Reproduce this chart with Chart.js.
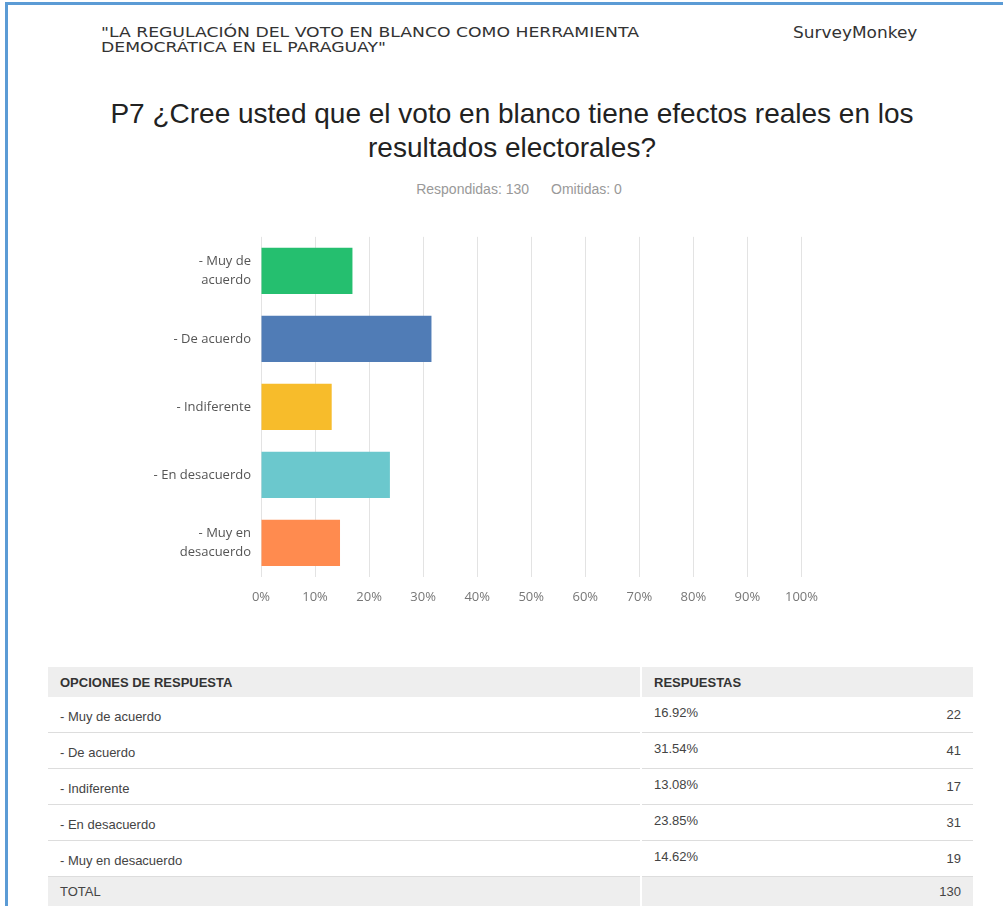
<!DOCTYPE html>
<html>
<head>
<meta charset="utf-8">
<script src="https://cdn.jsdelivr.net/npm/chart.js@4"></script>
<style>
  body { margin: 0; background: #fff; width: 1003px; height: 906px; overflow: hidden; position: relative; font-family: "Liberation Sans", Arial, sans-serif; }
  .frame { position: absolute; left: 5px; top: 2px; right: -10px; bottom: -10px; border-left: 3px solid #5b9bd5; border-top: 3px solid #5b9bd5; }
  .survey { position: absolute; left: 101px; top: 25px; font-family: "DejaVu Sans", sans-serif; font-size: 14px; line-height: 15px; color: #333; transform: scaleX(1.23); transform-origin: left top; }
  .brand { position: absolute; left: 793px; top: 24px; font-family: "DejaVu Sans", sans-serif; font-size: 15px; color: #333; transform: scaleX(1.13); transform-origin: left top; }
  .title { position: absolute; left: 40px; width: 944px; top: 97px; text-align: center; font-size: 28px; line-height: 34px; color: #222; }
  .counts { position: absolute; left: 0; width: 1038px; top: 181px; text-align: center; font-size: 14px; color: #999; }
  .counts span { margin: 0 11px; }
  #chartBox { position: absolute; left: 100px; top: 208px; width: 730px; height: 399px; }
  table { position: absolute; left: 48px; top: 667px; width: 925px; border-collapse: collapse; font-size: 13px; color: #444; }
  th { background: #eeeeee; text-align: left; font-weight: bold; height: 30px; padding: 0 12px; font-size: 13px; color: #333; }
  td { height: 35px; padding: 0 12px; border-bottom: 1px solid #dddddd; vertical-align: middle; }
  td.first { padding-top: 3px; height: 32px; }
  td.pct { vertical-align: top; padding-top: 8px; height: 27px; }
  td.num { text-align: right; }
  tr.total td { background: #eeeeee; height: 29px; border-bottom: none; }
  th.c2, td.pct { border-left: 2px solid #fff; }
</style>
</head>
<body>
<div class="frame"></div>
<div class="survey">"LA REGULACIÓN DEL VOTO EN BLANCO COMO HERRAMIENTA<br>DEMOCRÁTICA EN EL PARAGUAY"</div>
<div class="brand">SurveyMonkey</div>
<div class="title">P7 ¿Cree usted que el voto en blanco tiene efectos reales en los<br>resultados electorales?</div>
<div class="counts"><span>Respondidas: 130</span><span>Omitidas: 0</span></div>
<div id="chartBox"><canvas id="myChart"></canvas></div>
<table id="resTable"></table>

<script>
// answer options (chart labels use line breaks)
const categories = [
  ['- Muy de', 'acuerdo'],
  '- De acuerdo',
  '- Indiferente',
  '- En desacuerdo',
  ['- Muy en', 'desacuerdo']
];
const tableLabels = ['- Muy de acuerdo', '- De acuerdo', '- Indiferente', '- En desacuerdo', '- Muy en desacuerdo'];
const percentages = [16.92, 31.54, 13.08, 23.85, 14.62];
const responses = [22, 41, 17, 31, 19];
const total = 130;
const barColors = ['#25bf6f', '#507cb6', '#f7bc2b', '#6bc8cd', '#ff8b4f'];
const tickValues = [0, 10, 20, 30, 40, 50, 60, 70, 80, 90, 100];

// --- table ---
const table = document.getElementById('resTable');
let html = '<tr><th style="width:568px">OPCIONES DE RESPUESTA</th><th class="c2">RESPUESTAS</th><th></th></tr>';
tableLabels.forEach((label, i) => {
  html += '<tr><td class="first">' + label + '</td><td class="pct">' + percentages[i].toFixed(2) + '%</td><td class="num">' + responses[i] + '</td></tr>';
});
html += '<tr class="total"><td>TOTAL</td><td class="pct" style="padding-top:0;height:29px;vertical-align:middle"></td><td class="num">' + total + '</td></tr>';
table.innerHTML = html;

// --- chart ---
const ctx = document.getElementById('myChart').getContext('2d');
new Chart(ctx, {
  type: 'bar',
  data: {
    labels: categories,
    datasets: [{
      data: percentages,
      backgroundColor: barColors,
      categoryPercentage: 1,
      barPercentage: 0.68
    }]
  },
  options: {
    indexAxis: 'y',
    responsive: true,
    maintainAspectRatio: false,
    animation: false,
    layout: { padding: { top: 11, right: 24, bottom: 0, left: 0 } },
    plugins: {
      legend: { display: false },
      tooltip: { enabled: false }
    },
    scales: {
      x: {
        min: 0,
        max: 100,
        afterBuildTicks: (scale) => { scale.ticks = tickValues.map(v => ({ value: v })); },
        afterFit: (scale) => { scale.height = 30; },
        grid: { color: '#e3e3e3', drawTicks: false },
        border: { display: false },
        ticks: {
          padding: 12,
          color: '#777',
          font: { family: 'Open Sans', size: 13 },
          callback: (v) => v + '%'
        }
      },
      y: {
        afterFit: (scale) => { scale.width = 161; },
        grid: { display: false, drawTicks: false },
        border: { display: false },
        ticks: {
          padding: 10,
          color: '#555',
          font: { family: 'Open Sans', size: 13, lineHeight: 1.45 }
        }
      }
    }
  }
});
</script>
</body>
</html>
